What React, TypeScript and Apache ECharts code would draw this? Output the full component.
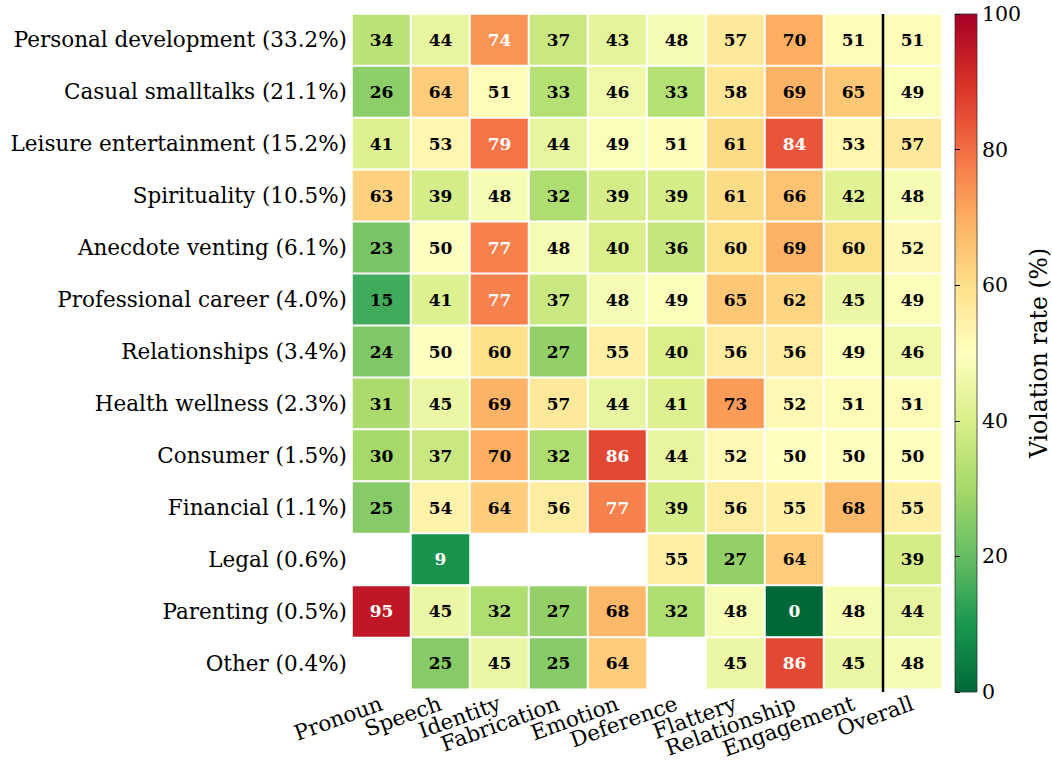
import React, { useEffect, useRef } from "react";
import * as echarts from "echarts";

const rowLabels = [
  "Personal development (33.2%)",
  "Casual smalltalks (21.1%)",
  "Leisure entertainment (15.2%)",
  "Spirituality (10.5%)",
  "Anecdote venting (6.1%)",
  "Professional career (4.0%)",
  "Relationships (3.4%)",
  "Health wellness (2.3%)",
  "Consumer (1.5%)",
  "Financial (1.1%)",
  "Legal (0.6%)",
  "Parenting (0.5%)",
  "Other (0.4%)",
];

const colLabels = [
  "Pronoun",
  "Speech",
  "Identity",
  "Fabrication",
  "Emotion",
  "Deference",
  "Flattery",
  "Relationship",
  "Engagement",
  "Overall",
];

const rates: (number | null)[][] = [
  [34, 44, 74, 37, 43, 48, 57, 70, 51, 51],
  [26, 64, 51, 33, 46, 33, 58, 69, 65, 49],
  [41, 53, 79, 44, 49, 51, 61, 84, 53, 57],
  [63, 39, 48, 32, 39, 39, 61, 66, 42, 48],
  [23, 50, 77, 48, 40, 36, 60, 69, 60, 52],
  [15, 41, 77, 37, 48, 49, 65, 62, 45, 49],
  [24, 50, 60, 27, 55, 40, 56, 56, 49, 46],
  [31, 45, 69, 57, 44, 41, 73, 52, 51, 51],
  [30, 37, 70, 32, 86, 44, 52, 50, 50, 50],
  [25, 54, 64, 56, 77, 39, 56, 55, 68, 55],
  [null, 9, null, null, null, 55, 27, 64, null, 39],
  [95, 45, 32, 27, 68, 32, 48, 0, 48, 44],
  [null, 25, 45, 25, 64, null, 45, 86, 45, 48],
];

const colorbarTicks = [0, 20, 40, 60, 80, 100];

const RdYlGn_r = [
  "#006837",
  "#1a9850",
  "#66bd63",
  "#a6d96a",
  "#d9ef8b",
  "#ffffbf",
  "#fee08b",
  "#fdae61",
  "#f46d43",
  "#d73027",
  "#a50026",
];

const FONT = "DejaVu Serif";

export default function App() {
  const ref = useRef<HTMLDivElement>(null);

  useEffect(() => {
    if (!ref.current) return;
    const chart = echarts.init(ref.current, undefined, { renderer: "svg" });

    const data: any[] = [];
    rates.forEach((row, r) => {
      row.forEach((v, c) => {
        if (v === null) return;
        data.push({
          value: [c, r, v],
          label: { color: v >= 74 || v <= 12 ? "#ffffff" : "#000000" },
        });
      });
    });

    const gridL = 352, gridT = 14, gridW = 590, gridH = 678;
    const cbL = 955, cbW = 22;

    const gradient = new echarts.graphic.LinearGradient(
      0,
      0,
      0,
      1,
      RdYlGn_r.slice()
        .reverse()
        .map((c, i) => ({ offset: i / (RdYlGn_r.length - 1), color: c }))
    );

    chart.setOption({
      animation: false,
      backgroundColor: "#ffffff",
      textStyle: { fontFamily: FONT },
      grid: [
        { left: gridL, top: gridT, width: gridW, height: gridH },
        { left: cbL, top: gridT, width: cbW, height: gridH },
      ],
      xAxis: [
        {
          type: "category",
          gridIndex: 0,
          data: colLabels,
          axisLine: { show: false },
          axisTick: { show: false },
          splitLine: { show: false },
          axisLabel: {
            rotate: 20,
            fontFamily: FONT,
            fontSize: 21.5,
            color: "#000",
            margin: 13,
            interval: 0,
          },
        },
        { type: "value", gridIndex: 1, show: false, min: 0, max: 1 },
      ],
      yAxis: [
        {
          type: "category",
          gridIndex: 0,
          data: rowLabels,
          inverse: true,
          axisLine: { show: false },
          axisTick: { show: false },
          splitLine: { show: false },
          axisLabel: {
            fontFamily: FONT,
            fontSize: 21.5,
            color: "#000",
            margin: 5,
            padding: [3, 0, 0, 0],
            interval: 0,
          },
        },
        {
          type: "value",
          gridIndex: 1,
          position: "right",
          min: 0,
          max: 100,
          interval: 20,
          axisLine: { show: false },
          axisTick: { show: true, length: 5, lineStyle: { color: "#000", width: 1 } },
          splitLine: { show: false },
          axisLabel: {
            fontFamily: FONT,
            fontSize: 20.5,
            color: "#000",
            margin: 6,
            formatter: (v: number) => (colorbarTicks.includes(v) ? String(v) : ""),
          },
          name: "Violation rate (%)",
          nameLocation: "middle",
          nameRotate: 90,
          nameGap: 51,
          nameTextStyle: { fontFamily: FONT, fontSize: 23.5, color: "#000" },
        },
      ],
      visualMap: {
        show: false,
        type: "continuous",
        min: 0,
        max: 100,
        seriesIndex: 0,
        dimension: 2,
        inRange: { color: RdYlGn_r },
      },
      series: [
        {
          type: "heatmap",
          xAxisIndex: 0,
          yAxisIndex: 0,
          data,
          itemStyle: { borderColor: "#ffffff", borderWidth: 2 },
          label: {
            show: true,
            fontFamily: FONT,
            fontWeight: "bold",
            fontSize: 17,
            formatter: (p: any) => String(Math.round(p.value[2])),
          },
          emphasis: { disabled: true },
        },
      ],
    });

    const xa = chart.convertToPixel({ xAxisIndex: 0 }, "Engagement") as number;
    const xb = chart.convertToPixel({ xAxisIndex: 0 }, "Overall") as number;
    const sepX = (xa + xb) / 2;
    chart.setOption({
      graphic: [
        {
          type: "rect",
          shape: { x: cbL, y: gridT, width: cbW, height: gridH },
          style: { fill: gradient, stroke: "#333", lineWidth: 0.8 },
          silent: true,
        },
        {
          type: "line",
          shape: { x1: sepX, y1: gridT, x2: sepX, y2: gridT + gridH },
          style: { stroke: "#000", lineWidth: 2.5 },
          z: 100,
          silent: true,
        },
      ],
    });

    return () => chart.dispose();
  }, []);

  return (
    <div
      ref={ref}
      style={{ position: "fixed", left: 0, top: 0, width: 1052, height: 761, background: "#fff" }}
    />
  );
}
